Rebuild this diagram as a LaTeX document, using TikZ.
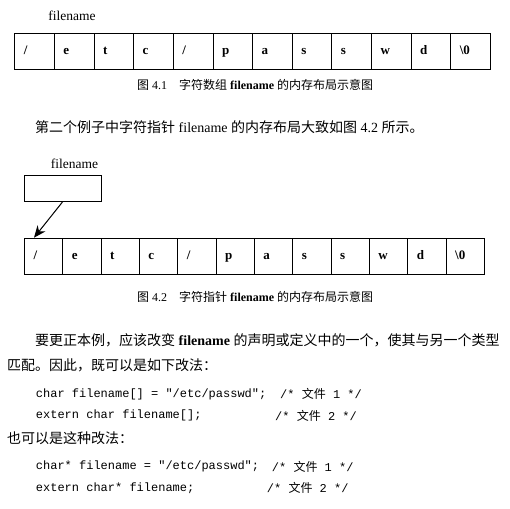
\documentclass[tikz,border=0pt]{standalone}
\usepackage{fontspec}
\setmainfont{Liberation Serif}
\setmonofont{Liberation Mono}
\newfontfamily\cjk{Noto Sans CJK SC}
\usetikzlibrary{arrows.meta, positioning}

\begin{document}
\begin{tikzpicture}[x=1pt, y=-1pt,
  cell/.style={draw, line width=1pt, minimum height=36pt, inner xsep=9pt, inner ysep=0pt, align=left, font=\bfseries\fontsize{13}{15}\selectfont, execute at begin node=\strut},
  ptrbox/.style={draw, line width=1pt, minimum width=77.7pt, minimum height=26pt},
  lbl/.style={font=\fontsize{13.5}{15}\selectfont},
  caption/.style={anchor=west, inner sep=0pt, font=\fontsize{12}{14}\selectfont},
  body/.style={anchor=west, inner sep=0pt, font=\fontsize{14}{16}\selectfont},
  code/.style={anchor=west, inner sep=0pt, font=\ttfamily\fontsize{12}{14}\selectfont}]
  \useasboundingbox (0,0) rectangle (510,508);

  % Array
  \node[lbl] (name1) at (72,16) {filename};
  \foreach \c [count=\i] in {{/},e,t,c,{/},p,a,s,s,w,d,{\textbackslash 0}} {
    \node[cell, text width=21.64pt, anchor=north west] (a\i) at ({14.3+(\i-1)*39.64},33.3) {\c};
  }
  \node[caption] (cap1) at (137,85) {{\cjk 图}~4.1\quad{\cjk 字符数组} \textbf{filename} {\cjk 的内存布局示意图}};

  \node[body] (intro) at (35,126.7) {{\cjk 第二个例子中字符指针} filename {\cjk 的内存布局大致如图} 4.2 {\cjk 所示。}};

  % Pointer
  \node[ptrbox] (ptr) at (62.85,188) {};
  \node[lbl] (name2) at (74.5,164) {filename};
  \foreach \c [count=\i] in {{/},e,t,c,{/},p,a,s,s,w,d,{\textbackslash 0}} {
    \node[cell, text width=20.33pt, anchor=north west] (b\i) at ({24+(\i-1)*38.33},237.7) {\c};
  }
  \draw[line width=1pt, -{Stealth[length=12pt, width=10pt]}] (ptr.south) -- ([xshift=10pt]b1.north west);
  \node[caption] (cap2) at (137,296.7) {{\cjk 图}~4.2\quad{\cjk 字符指针} \textbf{filename} {\cjk 的内存布局示意图}};

  % Text and code
  \node[body] (fix1) at (35,340.7) {{\cjk 要更正本例，应该改变} \textbf{filename} {\cjk 的声明或定义中的一个，使其与另一个类型}};
  \node[body] (fix2) at (7,365) {{\cjk 匹配。因此，既可以是如下改法：}};
  \node[code] (code1) at (35.7,394) {char filename[] = "/etc/passwd";};
  \node[code] (cmt1) at (280,394) {/* {\cjk 文件} 1 */};
  \node[code] (code2) at (35.7,415.7) {extern char filename[];};
  \node[code] (cmt2) at (275,415.7) {/* {\cjk 文件} 2 */};
  \node[body] (alt) at (7,438.3) {{\cjk 也可以是这种改法：}};
  \node[code] (code3) at (35.7,466.7) {char* filename = "/etc/passwd";};
  \node[code] (cmt3) at (271.7,466.7) {/* {\cjk 文件} 1 */};
  \node[code] (code4) at (35.7,488.3) {extern char* filename;};
  \node[code] (cmt4) at (266.7,488.3) {/* {\cjk 文件} 2 */};
\end{tikzpicture}
\end{document}
